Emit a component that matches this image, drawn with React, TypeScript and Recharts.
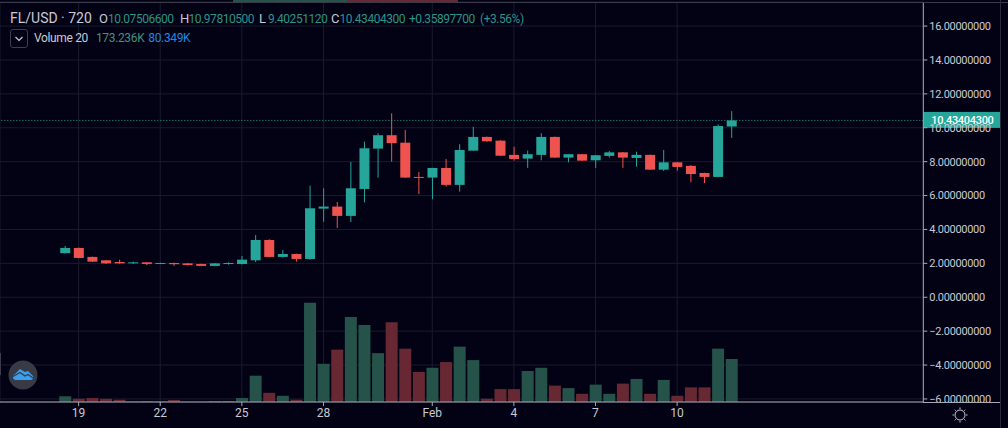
import { ComposedChart, Bar, Cell, XAxis, YAxis, CartesianGrid, ReferenceLine } from 'recharts';

const opens = [2.6, 2.91, 2.38, 2.18, 2.08, 2.0, 2.06, 1.98, 2.02, 2.0, 1.96, 1.85, 1.96, 1.96, 2.18, 3.38, 2.38, 2.55, 2.26, 5.23, 5.35, 4.8, 6.39, 8.77, 9.56, 9.12, 7.1, 7.06, 7.63, 6.63, 8.65, 9.46, 9.24, 8.4, 8.18, 8.4, 9.46, 8.24, 8.44, 8.08, 8.34, 8.55, 8.22, 8.4, 7.53, 7.96, 7.75, 7.33, 7.1, 10.075];
const highs = [3.03, 2.93, 2.4, 2.2, 2.22, 2.1, 2.08, 2.04, 2.04, 2.02, 1.98, 2.02, 2.06, 2.44, 3.67, 3.42, 2.79, 2.57, 6.58, 6.43, 5.62, 7.98, 9.18, 9.68, 10.85, 9.87, 7.39, 7.63, 8.16, 9.03, 10.06, 9.48, 9.26, 8.88, 8.65, 9.68, 9.48, 8.44, 8.46, 8.38, 8.63, 8.57, 8.59, 8.42, 8.69, 7.98, 7.8, 7.35, 10.2, 10.978];
const lows = [2.58, 2.3, 2.08, 1.96, 1.98, 1.97, 1.9, 1.96, 1.85, 1.88, 1.83, 1.83, 1.93, 1.94, 2.08, 2.36, 2.34, 2.1, 2.2, 4.45, 4.09, 4.44, 5.6, 7.06, 8.0, 7.04, 6.09, 5.78, 6.53, 6.23, 8.63, 9.18, 8.33, 8.06, 7.63, 8.08, 8.22, 7.96, 8.04, 7.63, 8.24, 7.63, 7.7, 7.51, 7.45, 7.47, 6.78, 6.74, 7.08, 9.4025];
const closes = [2.91, 2.32, 2.1, 2.0, 2.0, 2.06, 1.96, 2.02, 1.95, 1.9, 1.85, 2.0, 2.02, 2.22, 3.38, 2.38, 2.55, 2.26, 5.25, 5.35, 4.8, 6.43, 8.79, 9.56, 9.09, 7.06, 7.05, 7.63, 6.63, 8.69, 9.46, 9.2, 8.35, 8.16, 8.44, 9.46, 8.24, 8.44, 8.06, 8.38, 8.55, 8.24, 8.4, 7.53, 7.96, 7.69, 7.27, 7.1, 10.1, 10.43404];
const volumes = [23, 13, 16, 13, 9, 2, 4, 2, 8, 1, 1, 4, 4, 16, 106, 37, 25, 9, 400, 154, 211, 343, 310, 197, 321, 215, 121, 138, 161, 223, 169, 13, 52, 52, 125, 138, 66, 56, 33, 70, 33, 74, 93, 33, 89, 25, 59, 59, 215, 173.236];

const dayTicks = [1, 7, 13, 19, 27, 33, 39, 45];
const dayLabels = ['19', '22', '25', '28', 'Feb', '4', '7', '10'];
const priceTicks = [-6, -4, -2, 0, 2, 4, 6, 8, 10, 12, 14, 16];
const lastPrice = 10.434043;

const UP = '#26a69a';
const DOWN = '#ef5350';
const VOL_UP = '#25534a';
const VOL_DOWN = '#672834';
const BG = '#020214';
const GRID = '#1a1b2e';
const AXIS = '#a9a9b6';
const TEXT = '#c9cad4';
const FONT = 'Roboto, sans-serif';

const rows = opens.map((open, i) => ({
  i,
  open,
  close: closes[i],
  high: highs[i],
  low: lows[i],
  range: [lows[i], highs[i]],
  volume: volumes[i],
}));

function Candle(props: any) {
  const { x, y, width, height, payload } = props;
  const top = Math.min(y, y + height);
  const perUnit = Math.abs(height) / (payload.high - payload.low);
  const yOf = (p: number) => top + (payload.high - p) * perUnit;
  const up = payload.close >= payload.open;
  const color = up ? UP : DOWN;
  const bodyTop = yOf(Math.max(payload.open, payload.close));
  const bodyBottom = yOf(Math.min(payload.open, payload.close));
  const cx = x + width / 2;
  return (
    <g>
      <line x1={cx} x2={cx} y1={top} y2={top + Math.abs(height)} stroke={color} strokeWidth={1} />
      <rect x={x} y={bodyTop} width={width} height={Math.max(bodyBottom - bodyTop, 1)} fill={color} />
    </g>
  );
}

function PriceTag(props: any) {
  const { viewBox } = props;
  const left = viewBox.x + viewBox.width;
  return (
    <g>
      <rect x={left} y={viewBox.y - 8.5} width={76.7} height={16} fill={UP} />
      <text x={left + 8} y={viewBox.y + 3.5} fill="#ffffff" fontSize={11} letterSpacing={-0.3} fontFamily={FONT} fontWeight={500}>
        {lastPrice.toFixed(8)}
      </text>
    </g>
  );
}

function Header() {
  const label = { color: TEXT, fontSize: 13, letterSpacing: 0 };
  const value = { color: '#2a9488' };
  return (
    <div style={{ position: 'absolute', left: 10, top: 9, fontFamily: FONT, whiteSpace: 'nowrap', lineHeight: '18px' }}>
      <div style={{ display: 'flex', alignItems: 'baseline', fontSize: 12, letterSpacing: -0.45 }}>
        <span style={{ ...label, fontSize: 14, width: 89 }}>FL/USD · 720</span>
        <span style={{ ...label, width: 9 }}>O</span><span style={{ ...value, width: 72 }}>10.07506600</span>
        <span style={{ ...label, width: 8.5 }}>H</span><span style={{ ...value, width: 70.5 }}>10.97810500</span>
        <span style={{ ...label, width: 9 }}>L</span><span style={{ ...value, width: 63 }}>9.40251120</span>
        <span style={{ ...label, width: 8.5 }}>C</span><span style={{ ...value, width: 69.5 }}>10.43404300</span>
        <span style={{ ...value, width: 71 }}>+0.35897700</span>
        <span style={value}>(+3.56%)</span>
      </div>
    </div>
  );
}

function VolumeLegend() {
  return (
    <div style={{ position: 'absolute', left: 34, top: 29, fontFamily: FONT, fontSize: 12, letterSpacing: -0.35, lineHeight: '18px', whiteSpace: 'nowrap' }}>
      <span style={{ color: TEXT }}>Volume 20</span>
      <span style={{ color: '#44917a', marginLeft: 8 }}>173.236K</span>
      <span style={{ color: '#2088e0', marginLeft: 4 }}>80.349K</span>
    </div>
  );
}

export default function App() {
  return (
    <div style={{ position: 'absolute', left: 0, top: 0, width: 1008, height: 428, background: BG, overflow: 'hidden' }}>
      <ComposedChart width={1008} height={428} data={rows} margin={{ top: 2, right: 8, bottom: 0, left: 0 }}>
        <CartesianGrid xAxisId="time" yAxisId="price" stroke={GRID} />
        <XAxis
          xAxisId="time"
          type="number"
          dataKey="i"
          domain={[-4.78, 63.1]}
          allowDataOverflow
          ticks={dayTicks}
          tickFormatter={(v: number) => dayLabels[dayTicks.indexOf(v)]}
          stroke={AXIS}
          tickSize={4}
          height={26}
          interval={0}
          tick={{ fill: TEXT, fontSize: 12, fontFamily: FONT }}
        />
        <XAxis xAxisId="vol" type="number" dataKey="i" domain={[-4.78, 63.1]} allowDataOverflow hide />
        <YAxis
          yAxisId="price"
          orientation="right"
          domain={[-6.18, 17.42]}
          allowDataOverflow
          ticks={priceTicks}
          tickFormatter={(v: number) => v.toFixed(8).replace('-', '\u2212')}
          stroke={AXIS}
          tickSize={4}
          width={76.7}
          interval={0}
          tick={{ fill: TEXT, fontSize: 11, fontFamily: FONT, letterSpacing: -0.3 }}
        />
        <YAxis yAxisId="volume" domain={[0, 1612]} allowDataOverflow hide />
        <Bar xAxisId="vol" yAxisId="volume" dataKey="volume" barSize={12} isAnimationActive={false}>
          {rows.map((r) => (
            <Cell key={r.i} fill={r.close >= r.open ? VOL_UP : VOL_DOWN} />
          ))}
        </Bar>
        <Bar xAxisId="time" yAxisId="price" dataKey="range" barSize={10} shape={<Candle />} isAnimationActive={false} />
        <ReferenceLine xAxisId="time" yAxisId="price" y={lastPrice} stroke={UP} strokeDasharray="1 2" label={<PriceTag />} />
      </ComposedChart>

      {/* pane above, only its bottom edge shows */}
      <div style={{ position: 'absolute', left: 0, top: 2, width: 1008, height: 1, background: '#3a3b4a' }} />
      <div style={{ position: 'absolute', left: 233, top: 0, width: 114, height: 2, background: VOL_UP }} />
      <div style={{ position: 'absolute', left: 347, top: 0, width: 111, height: 2, background: VOL_DOWN }} />
      <div style={{ position: 'absolute', left: 1000, top: 0, width: 1, height: 428, background: '#2a2b3c' }} />
      <div style={{ position: 'absolute', left: 923, top: 402, width: 77, height: 1, background: AXIS }} />
      <div style={{ position: 'absolute', left: 0, top: 353, width: 1, height: 22, background: '#3a3b4a' }} />

      <Header />
      <div style={{ position: 'absolute', left: 10, top: 29, width: 16, height: 17, border: '1px solid #3b3d50', borderRadius: 3 }}>
        <svg width={16} height={17}>
          <path d="M4.5 7 L8 10.5 L11.5 7" fill="none" stroke={TEXT} strokeWidth={1.2} />
        </svg>
      </div>
      <VolumeLegend />

      <svg style={{ position: 'absolute', left: 8, top: 360 }} width={30} height={30}>
        <circle cx={15} cy={15} r={14.5} fill="#383a46" />
        <path d="M5 17 Q5 15 7 14 L12 9 L17 12 L20 11 L25 16 Q26 20 22 20 L8 20 Q5 20 5 17 Z" fill="#3a9fee" />
        <path d="M5 16.5 L12 12.5 L17 16 L20 14.5 L25 18" fill="none" stroke="#383a46" strokeWidth={1.2} />
      </svg>

      <svg style={{ position: 'absolute', left: 951, top: 406 }} width={18} height={18}>
        <circle cx={9} cy={9} r={5} fill="none" stroke={TEXT} strokeWidth={1} />
        <path d="M9 1.5V3 M9 15V16.5 M1.5 9H3 M15 9H16.5 M3.7 3.7L4.8 4.8 M13.2 13.2L14.3 14.3 M3.7 14.3L4.8 13.2 M13.2 4.8L14.3 3.7" stroke={TEXT} strokeWidth={1} />
      </svg>
    </div>
  );
}
